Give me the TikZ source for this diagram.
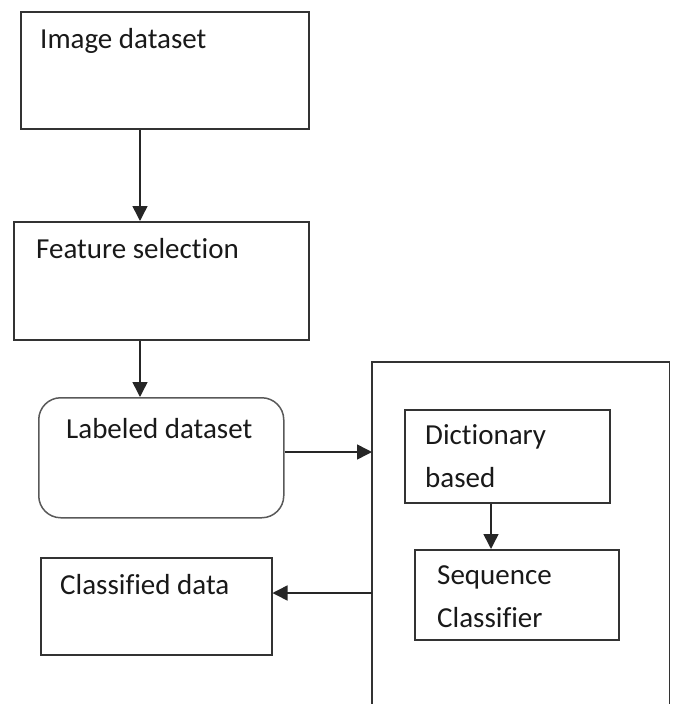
\documentclass[tikz,border=0pt]{standalone}
\usepackage{fontspec}
\setmainfont{Carlito}[Ligatures=NoCommon]
\usetikzlibrary{arrows.meta, positioning}

\tikzset{
    box/.style={draw=black!80, line width=1.5pt, anchor=north west, inner sep=0pt},
    roundbox/.style={box, draw=black!65, rounded corners=22pt},
    boxtext/.style={anchor=base west, inner sep=0pt, align=left,
        font=\fontsize{29}{43}\selectfont, text=black!90},
    flow/.style={-{Triangle[length=15pt, width=15pt]}, line width=1.5pt, draw=black!85},
}

\begin{document}
\begin{tikzpicture}[x=1pt, y=-1pt]
            \useasboundingbox (0,0) rectangle (674,704);

            % left column
            \node[box, minimum width=288pt, minimum height=117pt] (imgdata) at (20,11) {};
            \node[box, minimum width=295pt, minimum height=118pt] (featsel) at (13,221) {};
            \node[roundbox, minimum width=245pt, minimum height=120pt] (labeled) at (38,397) {};
            \node[box, minimum width=231pt, minimum height=97pt] (classified) at (40,557) {};

            % classifier block
            \node[inner sep=0pt, anchor=north west, minimum width=297pt, minimum height=342pt] (outer) at (372,362) {};
            \draw[black!80, line width=1.5pt] (outer.south west) |- (outer.north east) -- (outer.south east);
            \node[box, minimum width=205pt, minimum height=93pt] (dict) at (404,409) {};
            \node[box, minimum width=204pt, minimum height=90pt] (seqcls) at (414,549) {};

            % texts (multi-line ones sit on their last baseline)
            \node[boxtext] (imgdatatxt) at (40,48) {Image dataset};
            \node[boxtext] (featseltxt) at (36,258) {Feature selection};
            \node[boxtext] (labeledtxt) at (66,438) {Labeled dataset};
            \node[boxtext] (dicttxt) at (425,487) {Dictionary\\based};
            \node[boxtext] (seqclstxt) at (437,627) {Sequence\\Classifier};
            \node[boxtext] (classifiedtxt) at (60,594) {Classified data};

            % connectors
            \coordinate (leftaxis) at (140,0);
            \coordinate (dictaxis) at (491,0);
            \coordinate (inrow) at (0,452);
            \coordinate (outrow) at (0,593);
            \draw[flow] (imgdata.south -| leftaxis) -- (featsel.north -| leftaxis);
            \draw[flow] (featsel.south -| leftaxis) -- (labeled.north -| leftaxis);
            \draw[flow] (labeled.east |- inrow) -- (outer.west |- inrow);
            \draw[flow] (dict.south -| dictaxis) -- (seqcls.north -| dictaxis);
            \draw[flow] (outer.west |- outrow) -- (classified.east |- outrow);

        \end{tikzpicture}
\end{document}
